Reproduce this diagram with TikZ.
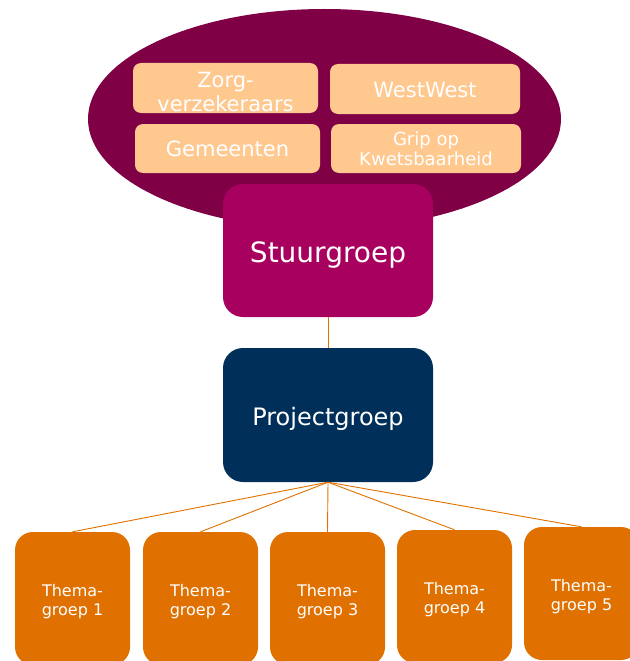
\documentclass[tikz,border=0pt]{standalone}
\usepackage{fontspec}
\setmainfont{DejaVu Sans}
\usetikzlibrary{shapes.geometric}
\definecolor{ellc}{HTML}{7F0045}
\definecolor{stuurc}{HTML}{A8005E}
\definecolor{projc}{HTML}{003059}
\definecolor{peach}{HTML}{FFC88F}
\definecolor{orng}{HTML}{E07000}
\tikzset{
  member/.style={fill=peach, rounded corners=8pt, inner sep=0pt},
  bigbox/.style={rounded corners=20pt, minimum width=210pt, inner sep=0pt},
  thema/.style={fill=orng, rounded corners=18pt, minimum width=115pt, minimum height=133pt, inner sep=0pt},
  txt/.style={text=white, align=center, inner sep=0pt},
  thtxt/.style={txt, font=\fontsize{16}{19.5}\selectfont},
  link/.style={draw=orng, line width=0.9pt}
}
\begin{document}
\begin{tikzpicture}[x=1pt,y=-1pt]
\useasboundingbox (0,0) rectangle (629,661);
\node[ellipse, fill=ellc, minimum width=473pt, minimum height=220pt, inner sep=0pt] (ell) at (324.5,119) {};
\node[member, minimum width=185pt, minimum height=50pt] (zorg) at (225.5,88) {};
\node[member, minimum width=190pt, minimum height=50pt] (west) at (425,89) {};
\node[member, minimum width=185pt, minimum height=49pt] (gem) at (227.5,148.5) {};
\node[member, minimum width=190pt, minimum height=49pt] (grip) at (426,148.5) {};
\node[txt, font=\fontsize{21}{24}\selectfont] (zorgt) at ([yshift=-3.5pt]zorg.center) {Zorg-\\verzekeraars};
\node[txt, font=\fontsize{21}{24}\selectfont] (westt) at ([yshift=-1pt]west.center) {WestWest};
\node[txt, font=\fontsize{21}{24}\selectfont] (gemt) at ([yshift=-0.5pt]gem.center) {Gemeenten};
\node[txt, font=\fontsize{18}{20}\selectfont] (gript) at ([yshift=-0.5pt]grip.center) {Grip op\\Kwetsbaarheid};
\node[bigbox, fill=stuurc, minimum height=133pt] (stuur) at (328,250.5) {};
\node[bigbox, fill=projc, minimum height=134pt] (proj) at (328,415) {};
\node[txt, font=\fontsize{28}{32}\selectfont] (stuurt) at ([yshift=-5pt]stuur.center) {Stuurgroep};
\node[txt, font=\fontsize{24}{28}\selectfont] (projt) at ([yshift=-3.7pt]proj.center) {Projectgroep};
\node[thema] (t1) at (72.5,598.5) {};
\node[thema] (t2) at (200.5,598.5) {};
\node[thema] (t3) at (327.5,598.5) {};
\node[thema] (t4) at (454.5,596.5) {};
\node[thema] (t5) at (581.5,593.5) {};
\node[thtxt] (t1t) at ([yshift=-3pt]t1.center) {Thema-\\groep 1};
\node[thtxt] (t2t) at ([yshift=-3pt]t2.center) {Thema-\\groep 2};
\node[thtxt] (t3t) at ([yshift=-3pt]t3.center) {Thema-\\groep 3};
\node[thtxt] (t4t) at ([yshift=-3pt]t4.center) {Thema-\\groep 4};
\node[thtxt] (t5t) at ([yshift=-3pt]t5.center) {Thema-\\groep 5};
\draw[link] (stuur.south) -- (proj.north);
\foreach \t in {t1,t2,t3,t4,t5} \draw[link] (proj.south) -- (\t.north);
\end{tikzpicture}
\end{document}
